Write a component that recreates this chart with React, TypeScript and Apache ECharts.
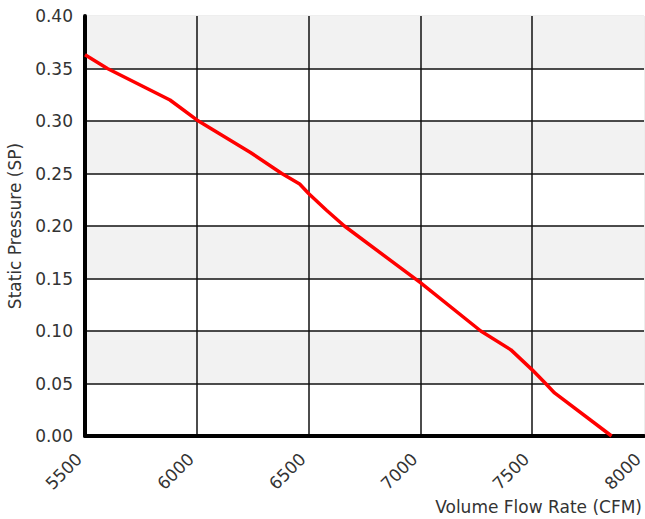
import React, { useEffect, useRef } from "react";
import * as echarts from "echarts";

const flowRate = [5500, 5600, 5880, 6000, 6240, 6380, 6460, 6500, 6580, 6660, 7000, 7270, 7405, 7500, 7560, 7600, 7855];
const staticPressure = [0.363, 0.35, 0.32, 0.301, 0.27, 0.25, 0.24, 0.231, 0.215, 0.2, 0.146, 0.1, 0.082, 0.063, 0.05, 0.041, 0.0];

const xTicks = { min: 5500, max: 8000, interval: 500 };
const yTicks = { min: 0, max: 0.4, interval: 0.05 };

const FONT = "DejaVu Sans";

export default function App() {
  const ref = useRef<HTMLDivElement>(null);
  useEffect(() => {
    if (!ref.current) return;
    const chart = echarts.init(ref.current, undefined, { renderer: "svg" });
    chart.setOption({
      animation: false,
      backgroundColor: "#fff",
      grid: {
        left: 85,
        right: 1,
        top: 16,
        bottom: 83,
        containLabel: false,
        outerBoundsMode: "none",
        show: true,
        borderColor: "#dcdcdc",
        borderWidth: 1,
        backgroundColor: "transparent",
      },
      xAxis: {
        type: "value",
        min: xTicks.min,
        max: xTicks.max,
        interval: xTicks.interval,
        name: "Volume Flow Rate (CFM)",
        nameLocation: "end",
        nameGap: 0,
        nameTextStyle: {
          fontFamily: FONT,
          fontSize: 17,
          color: "#333",
          align: "right",
          verticalAlign: "top",
          padding: [62, 2, 0, 0],
        },
        axisLine: { show: true, onZero: false, lineStyle: { color: "#000", width: 4 } },
        axisTick: { show: false },
        axisLabel: {
          rotate: 45,
          margin: 26,
          align: "right",
          verticalAlign: "bottom",
          fontFamily: FONT,
          fontSize: 17,
          color: "#333",
          showMaxLabel: true,
          showMinLabel: true,
          formatter: (v: number) => String(v),
        },
        splitLine: {
          show: true,
          showMinLine: false,
          showMaxLine: false,
          lineStyle: { color: "#111", width: 1.5 },
        },
      },
      yAxis: {
        type: "value",
        min: yTicks.min,
        max: yTicks.max,
        interval: yTicks.interval,
        name: "Static Pressure (SP)",
        nameLocation: "middle",
        nameGap: 62,
        nameTextStyle: { fontFamily: FONT, fontSize: 17, color: "#333" },
        axisLine: { show: true, onZero: false, lineStyle: { color: "#000", width: 4 } },
        axisTick: { show: false },
        axisLabel: {
          margin: 12,
          fontFamily: FONT,
          fontSize: 17,
          color: "#333",
          formatter: (v: number) => v.toFixed(2),
        },
        splitLine: {
          show: true,
          showMinLine: false,
          showMaxLine: false,
          lineStyle: { color: "#111", width: 1.5 },
        },
        splitArea: { show: true, areaStyle: { color: ["#ffffff", "#f2f2f2"] } },
      },
      series: [
        {
          type: "line",
          data: flowRate.map((x, i) => [x, staticPressure[i]]),
          showSymbol: false,
          smooth: false,
          lineStyle: { color: "#ff0000", width: 3.5 },
          clip: true,
        },
      ],
    });
    return () => chart.dispose();
  }, []);
  return <div ref={ref} style={{ position: "fixed", left: 0, top: 0, width: 645, height: 519 }} />;
}
